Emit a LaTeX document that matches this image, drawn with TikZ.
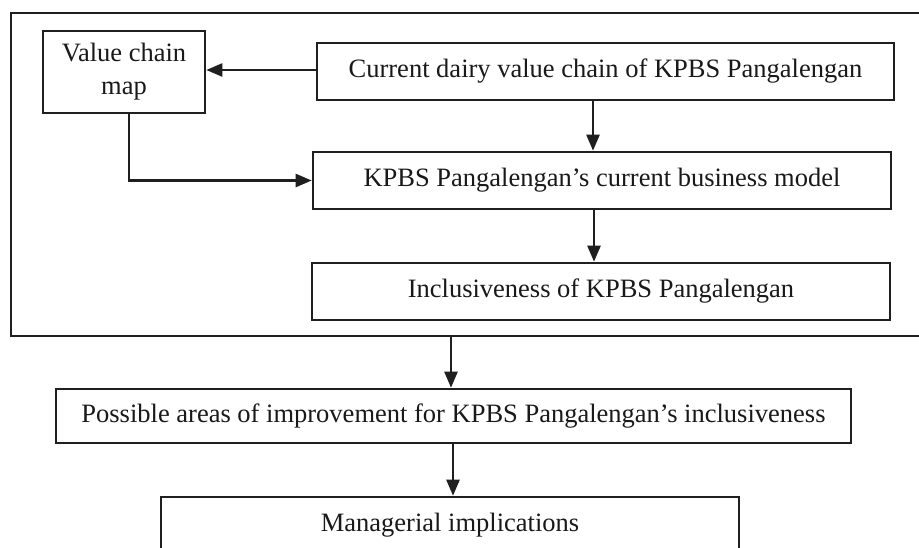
\documentclass[tikz,border=0pt]{standalone}
\usepackage{fontspec}
\setmainfont{Liberation Serif}
\usetikzlibrary{arrows.meta,calc}
\begin{document}
\begin{tikzpicture}[x=1pt,y=-1pt,
  box/.style={draw=black!88,line width=2.6pt,inner sep=0pt,align=center,
    font=\fontsize{26.5}{33}\selectfont,text=black!90},
  arr/.style={draw=black!88,line width=2.4pt,-{Triangle[length=16pt,width=13pt]}},
  frame/.style={draw=black!88,line width=2.6pt}]
\useasboundingbox[fill=white] (0,0) rectangle (919,547);
\begin{scope}
\clip (0,0) rectangle (919,547);
\draw[frame] (930,13) -- (11,13) -- (11,336) -- (930,336);
\node[box,minimum width=162pt,minimum height=82pt] (vcm) at (124,72) {Value chain\\map};
\node[box,minimum width=577pt,minimum height=57pt] (cur) at (605.5,71.5) {Current dairy value chain of KPBS Pangalengan};
\node[box,minimum width=578pt,minimum height=57pt] (bm) at (602,180.5) {KPBS Pangalengan’s current business model};
\node[box,minimum width=578pt,minimum height=57pt] (inc) at (601,291.5) {Inclusiveness of KPBS Pangalengan};
\node[box,minimum width=795pt,minimum height=54pt] (pos) at (453.5,416) {Possible areas of improvement for KPBS Pangalengan’s inclusiveness};
\node[box,minimum width=578pt,minimum height=56pt] (man) at (450,525) {Managerial implications};
\coordinate (a1) at (593,0);
\coordinate (a2) at (594,0);
\coordinate (a3) at (129,0);
\coordinate (fb) at (451,336);
\coordinate (a4) at (453,0);
\coordinate (a5) at (0,70);
\draw[arr] (cur.west |- a5) -- (vcm.east |- a5);
\draw[arr] (cur.south -| a1) -- (bm.north -| a1);
\draw[arr] (bm.south -| a2) -- (inc.north -| a2);
\draw[arr] (vcm.south -| a3) |- (bm.west);
\draw[arr] (fb) -- (pos.north -| fb);
\draw[arr] (pos.south -| a4) -- (man.north -| a4);
\end{scope}
\end{tikzpicture}
\end{document}
